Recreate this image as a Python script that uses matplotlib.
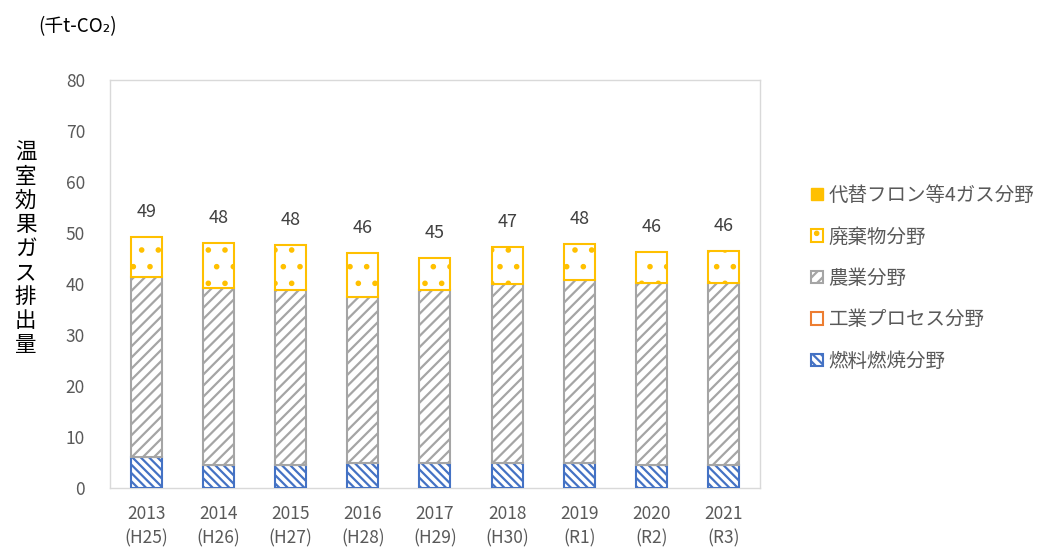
import matplotlib
matplotlib.use("Agg")
import matplotlib.pyplot as plt
from matplotlib.patches import Patch
import numpy as np

plt.rcParams['font.family'] = ['Noto Sans CJK JP', 'DejaVu Sans']
plt.rcParams['hatch.linewidth'] = 1.6

years = ["2013\n(H25)", "2014\n(H26)", "2015\n(H27)", "2016\n(H28)", "2017\n(H29)",
         "2018\n(H30)", "2019\n(R1)", "2020\n(R2)", "2021\n(R3)"]
fuel = [6.1, 4.5, 4.5, 4.9, 4.9, 5.0, 5.0, 4.6, 4.5]
industry = [0, 0, 0, 0, 0, 0, 0, 0, 0]
agri = [35.2, 34.7, 34.3, 32.6, 33.9, 35.0, 35.8, 35.6, 35.7]
waste = [7.9, 8.8, 8.8, 8.6, 6.3, 7.3, 7.0, 6.1, 6.3]
fluoro = [0, 0, 0, 0, 0, 0, 0, 0, 0]
totals = [49, 48, 48, 46, 45, 47, 48, 46, 46]

series_names = ["燃料燃焼分野", "工業プロセス分野", "農業分野", "廃棄物分野", "代替フロン等4ガス分野"]
colors = ["#4472C4", "#ED7D31", "#A5A5A5", "#FFC000", "#FFC000"]
hatches = ["\\\\\\\\", "", "///", ".", ".."]

fig = plt.figure(figsize=(10.61, 5.53), dpi=100)
ax = fig.add_axes([0.1037, 0.1175, 0.6125, 0.7375])

x = np.arange(len(years))
w = 0.43
bottom = np.zeros(len(years))
data = [fuel, industry, agri, waste, fluoro]
for i, vals in enumerate(data):
    v = np.array(vals, dtype=float)
    lw = 1.5 if v.sum() > 0 else 0
    ax.bar(x, v, w, bottom=bottom, facecolor="white", edgecolor=colors[i],
           hatch=hatches[i], linewidth=lw, zorder=3)
    bottom += v

for xi, top, t in zip(x, bottom, totals):
    ax.text(xi, top + 3.2, f"{t}", ha="center", va="bottom", fontsize=13, color="#404040")

ax.set_xlim(-0.5, len(years) - 0.5)
ax.set_ylim(0, 80)
ax.set_yticks(range(0, 81, 10))
ax.set_xticks(x)
ax.set_xticklabels(years, fontsize=12.5, color="#595959", linespacing=1.45)
ax.tick_params(axis='y', labelsize=12.5, labelcolor="#595959", length=0, pad=18)
ax.tick_params(axis='x', length=0, pad=12)
for s in ax.spines.values():
    s.set_color("#D9D9D9")
    s.set_linewidth(1.0)

fig.text(0.036, 0.952, "(千t-CO₂)", fontsize=13.5, color="#000000", ha="left", va="center")
fig.text(0.024, 0.55, "\n".join("温室効果ガス排出量"), fontsize=15.5, color="#000000",
         ha="center", va="center", linespacing=1.12)

handles = []
for i in [4, 3, 2, 1, 0]:
    if i == 4:
        handles.append(Patch(facecolor="#FFC000", edgecolor="#FFC000", hatch="..", linewidth=1))
    else:
        handles.append(Patch(facecolor="white", edgecolor=colors[i], hatch=hatches[i], linewidth=1.5))
labels = [series_names[i] for i in [4, 3, 2, 1, 0]]
leg = fig.legend(handles, labels, loc="upper left", bbox_to_anchor=(0.748, 0.697),
                 frameon=False, fontsize=14, handlelength=0.6, handleheight=0.6,
                 handletextpad=0.3, labelspacing=1.05, labelcolor="#595959")

fig.savefig("out.png", dpi=100)
